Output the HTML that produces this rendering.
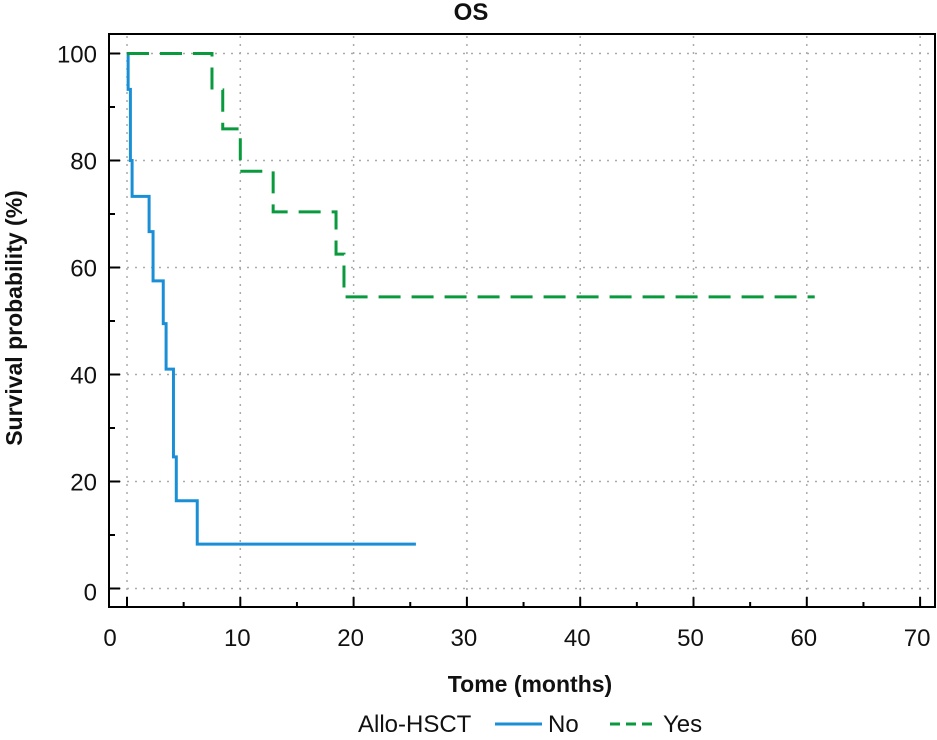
<!DOCTYPE html>
<html><head><meta charset="utf-8"><style>
body{margin:0;background:#fff;width:937px;height:735px;overflow:hidden}
svg text{font-family:"Liberation Sans",sans-serif;fill:#111}
</style></head><body>
<svg id="chart" width="937" height="735" xmlns="http://www.w3.org/2000/svg">
<text x="471" y="20" font-size="24" text-anchor="middle" font-weight="bold">OS</text>
<g id="grid"></g>
<rect x="109" y="34" width="826" height="573" fill="none" stroke="#000" stroke-width="2"/>
<g id="axes"></g>
<g id="series"></g>
<text transform="translate(22,318) rotate(-90)" font-size="23" font-weight="bold" text-anchor="middle">Survival probability (%)</text>
<text x="530" y="692" font-size="23" font-weight="bold" text-anchor="middle">Tome (months)</text>
<g>
<text x="358" y="732" font-size="24">Allo-HSCT</text>
<line x1="495" y1="724" x2="542" y2="724" stroke="#1a8fd6" stroke-width="3"/>
<text x="548" y="732" font-size="24">No</text>
<line x1="610" y1="724" x2="657" y2="724" stroke="#0a9a3e" stroke-width="3" stroke-dasharray="10,6"/>
<text x="663" y="732" font-size="24">Yes</text>
</g>
</svg>
<script>
const xTicks=[0,10,20,30,40,50,60,70];
const yTicks=[0,20,40,60,80,100];
const noTimes=[0,0.1,0.3,0.45,1.95,2.3,3.2,3.45,4.1,4.35,6.2,25.5];
const noSurv=[100,93.3,80,73.3,66.7,57.5,49.5,41,24.6,16.4,8.3,8.3];
const yesTimes=[0,7.5,8.45,10.0,12.9,18.45,19.15,60.7];
const yesSurv=[100,93.2,85.9,78.0,70.4,62.5,54.5,54.5];
const NS="http://www.w3.org/2000/svg";
const X=t=>127+t*11.33, Y=v=>588.5-v*5.35;
function mk(tag,attrs,parent){const e=document.createElementNS(NS,tag);for(const k in attrs)e.setAttribute(k,attrs[k]);parent.appendChild(e);return e;}
const grid=document.getElementById('grid'),axes=document.getElementById('axes'),ser=document.getElementById('series');
xTicks.forEach(t=>{
  const g=mk('line',{x1:X(t),x2:X(t),y1:36,y2:605,stroke:'#aaa','stroke-width':1.5,'stroke-dasharray':'2,6'},grid);
  
  
  const tk=mk('line',{x1:X(t),x2:X(t),y1:607,y2:597,stroke:'#000','stroke-width':2},axes);
  
  
  const m=mk('line',{x1:X(t+5),x2:X(t+5),y1:607,y2:602,stroke:'#000','stroke-width':2},axes);
  
  
  const lb=mk('text',{x:t===0?110:X(t)-3,y:646,'font-size':24,'text-anchor':'middle'},axes);
  lb.textContent=t;
  
  
});
yTicks.forEach(v=>{
  const g=mk('line',{x1:111,x2:933,y1:Y(v),y2:Y(v),stroke:'#aaa','stroke-width':1.5,'stroke-dasharray':'2,6'},grid);
  
  
  const tk=mk('line',{x1:109,x2:120,y1:Y(v),y2:Y(v),stroke:'#000','stroke-width':2},axes);
  
  
  if(v<100){const m=mk('line',{x1:109,x2:115,y1:Y(v+10),y2:Y(v+10),stroke:'#000','stroke-width':2},axes);
  
  }
  const lb=mk('text',{x:97,y:Y(v)+(v===0?12:9),'font-size':24,'text-anchor':'end'},axes);
  lb.textContent=v;
  
  
});
function stepPath(ts,vs){let d='M'+X(ts[0])+','+Y(vs[0]);for(let i=1;i<ts.length;i++){d+=' H'+X(ts[i])+' V'+Y(vs[i]);}return d;}
const pn=mk('path',{d:stepPath(noTimes,noSurv),fill:'none',stroke:'#1a8fd6','stroke-width':3},ser);


const py=mk('path',{d:stepPath(yesTimes,yesSurv),fill:'none',stroke:'#0a9a3e','stroke-width':3,'stroke-dasharray':'22,11'},ser);


</script>
</body></html>
